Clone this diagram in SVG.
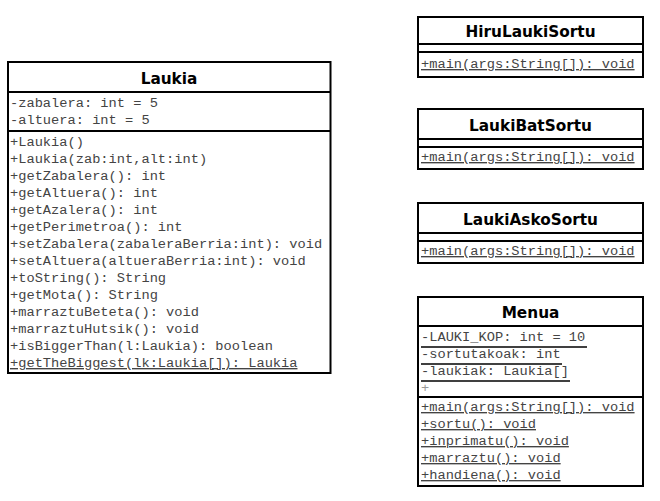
<svg xmlns="http://www.w3.org/2000/svg" width="660" height="501" viewBox="0 0 660 501">
<style>
.box{fill:#fff;stroke:#000;stroke-width:2}
.sep{stroke:#000;stroke-width:2}
.title{font-family:"DejaVu Sans",Verdana,sans-serif;font-weight:bold;font-size:15.3px;fill:#000;text-anchor:middle}
.m{font-family:"Liberation Mono","Courier New",monospace;font-size:13.7px;fill:#444}
.u{text-decoration:underline}
.ul{stroke:#000;stroke-width:1.3}
</style>
<rect width="660" height="501" fill="#fff"/>
<g id="Laukia">
<rect class="box" x="8" y="62" width="322.5" height="311"/>
<line class="sep" x1="8" y1="92" x2="330.5" y2="92"/>
<line class="sep" x1="8" y1="131" x2="330.5" y2="131"/>
<text class="title" x="169" y="84">Laukia</text>
<text class="m" x="10" y="107">-zabalera: int = 5</text>
<text class="m" x="10" y="124">-altuera: int = 5</text>
<text class="m" x="10" y="146">+Laukia()</text>
<text class="m" x="10" y="163">+Laukia(zab:int,alt:int)</text>
<text class="m" x="10" y="180">+getZabalera(): int</text>
<text class="m" x="10" y="197">+getAltuera(): int</text>
<text class="m" x="10" y="214">+getAzalera(): int</text>
<text class="m" x="10" y="231">+getPerimetroa(): int</text>
<text class="m" x="10" y="248">+setZabalera(zabaleraBerria:int): void</text>
<text class="m" x="10" y="265">+setAltuera(altueraBerria:int): void</text>
<text class="m" x="10" y="282">+toString(): String</text>
<text class="m" x="10" y="299">+getMota(): String</text>
<text class="m" x="10" y="316">+marraztuBeteta(): void</text>
<text class="m" x="10" y="333">+marraztuHutsik(): void</text>
<text class="m" x="10" y="350">+isBiggerThan(l:Laukia): boolean</text>
<text class="m u" x="10" y="367">+getTheBiggest(lk:Laukia[]): Laukia</text>
</g>
<g id="HiruLaukiSortu">
<rect class="box" x="418" y="17" width="225" height="60"/>
<line class="sep" x1="418" y1="44" x2="643" y2="44"/>
<line class="sep" x1="418" y1="52" x2="643" y2="52"/>
<text class="title" x="530.5" y="37">HiruLaukiSortu</text>
<text class="m u" x="421" y="68">+main(args:String[]): void</text>
</g>
<g id="LaukiBatSortu">
<rect class="box" x="418" y="109" width="225" height="60"/>
<line class="sep" x1="418" y1="139" x2="643" y2="139"/>
<line class="sep" x1="418" y1="147" x2="643" y2="147"/>
<text class="title" x="530.5" y="131">LaukiBatSortu</text>
<text class="m u" x="421" y="161">+main(args:String[]): void</text>
</g>
<g id="LaukiAskoSortu">
<rect class="box" x="418" y="203" width="225" height="60"/>
<line class="sep" x1="418" y1="233" x2="643" y2="233"/>
<line class="sep" x1="418" y1="241" x2="643" y2="241"/>
<text class="title" x="530.5" y="225">LaukiAskoSortu</text>
<text class="m u" x="421" y="255">+main(args:String[]): void</text>
</g>
<g id="Menua">
<rect class="box" x="418" y="297" width="225" height="189"/>
<line class="sep" x1="418" y1="326" x2="643" y2="326"/>
<line class="sep" x1="418" y1="397" x2="643" y2="397"/>
<text class="title" x="530.5" y="318">Menua</text>
<text class="m" x="421" y="341">-LAUKI_KOP: int = 10</text>
<line class="ul" x1="421" y1="347" x2="587" y2="347"/>
<text class="m" x="421" y="358">-sortutakoak: int</text>
<line class="ul" x1="421" y1="364" x2="562" y2="364"/>
<text class="m" x="421" y="375">-laukiak: Laukia[]</text>
<line class="ul" x1="421" y1="381" x2="570" y2="381"/>
<text class="m" x="421" y="392" style="fill:#999">+</text>
<text class="m u" x="421" y="411">+main(args:String[]): void</text>
<text class="m u" x="421" y="428">+sortu(): void</text>
<text class="m u" x="421" y="445">+inprimatu(): void</text>
<text class="m u" x="421" y="462">+marraztu(): void</text>
<text class="m u" x="421" y="479">+handiena(): void</text>
</g>
<g id="connectors"></g>
</svg>
